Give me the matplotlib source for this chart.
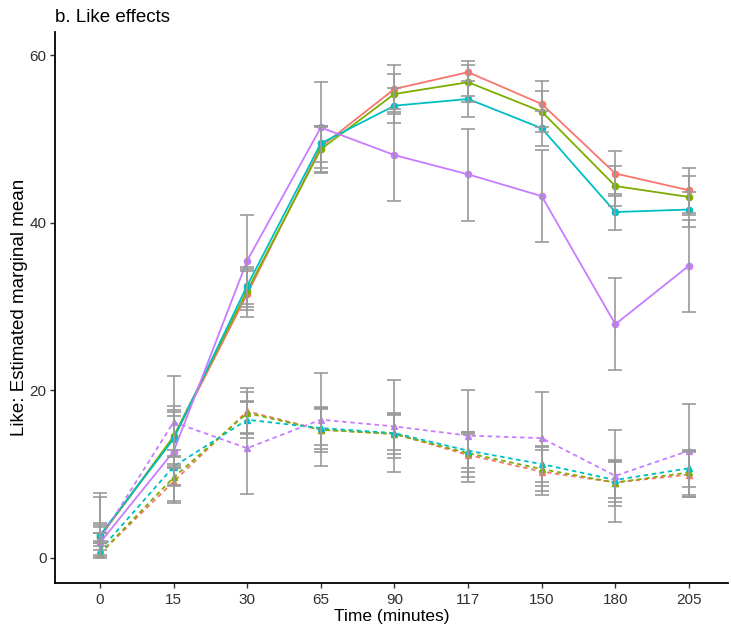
import numpy as np
import matplotlib.pyplot as plt

plt.rcParams['font.family'] = ['Liberation Sans', 'DejaVu Sans']

times = ["0", "15", "30", "65", "90", "117", "150", "180", "205"]

# estimated marginal means, solid = one condition, dashed = the other
red_solid = [2.5, 14.3, 31.5, 49.1, 56.0, 58.0, 54.2, 45.9, 43.9]
green_solid = [2.5, 14.5, 31.9, 48.8, 55.4, 56.8, 53.3, 44.4, 43.1]
cyan_solid = [2.7, 14.2, 32.5, 49.5, 54.0, 54.8, 51.3, 41.3, 41.6]
purple_solid = [1.8, 12.7, 35.5, 51.4, 48.1, 45.8, 43.2, 27.9, 34.9]

red_dashed = [0.5, 9.1, 17.5, 15.3, 14.8, 12.3, 10.3, 9.0, 9.95]
green_dashed = [0.5, 9.6, 17.3, 15.3, 14.8, 12.5, 10.6, 9.0, 10.2]
cyan_dashed = [0.9, 10.9, 16.5, 15.5, 14.9, 12.8, 11.2, 9.3, 10.7]
purple_dashed = [2.2, 16.2, 13.1, 16.5, 15.7, 14.6, 14.3, 9.8, 12.8]

# confidence limits (lower, upper)
red_solid_lo = [1.8, 10.7, 28.8, 46.6, 53.2, 55.2, 51.5, 43.2, 41.2]
red_solid_hi = [3.9, 18.1, 34.2, 51.6, 58.8, 59.3, 56.9, 48.6, 46.6]
green_solid_lo = [1.8, 11.2, 29.6, 46.1, 53.0, 54.5, 50.8, 42.0, 40.9]
green_solid_hi = [3.7, 17.7, 34.5, 51.5, 57.8, 58.9, 55.7, 46.8, 45.6]
cyan_solid_lo = [2.0, 11.0, 30.3, 47.3, 51.9, 52.7, 49.2, 39.2, 39.5]
cyan_solid_hi = [4.2, 17.4, 34.7, 51.6, 56.1, 56.9, 53.4, 43.5, 43.7]
purple_solid_lo = [1.0, 8.6, 30.0, 46.0, 42.6, 40.2, 37.7, 22.4, 29.4]
purple_solid_hi = [7.3, 17.0, 41.0, 56.8, 53.6, 51.2, 48.7, 33.4, 40.4]

red_dashed_lo = [0.0, 6.5, 14.8, 12.6, 11.9, 9.6, 7.5, 6.7, 7.3]
red_dashed_hi = [3.0, 12.0, 20.3, 17.9, 17.3, 14.8, 12.9, 11.4, 12.7]
green_dashed_lo = [0.1, 6.8, 14.9, 13.0, 12.4, 10.2, 8.0, 6.2, 7.5]
green_dashed_hi = [3.0, 12.2, 19.8, 17.8, 17.2, 15.0, 13.2, 11.7, 12.8]
cyan_dashed_lo = [0.4, 8.7, 14.3, 13.5, 12.9, 10.7, 9.1, 7.1, 8.5]
cyan_dashed_hi = [3.0, 12.9, 18.7, 18.0, 17.1, 15.0, 13.4, 11.6, 12.9]
purple_dashed_lo = [1.4, 10.7, 7.6, 11.0, 10.2, 9.1, 8.6, 4.3, 7.3]
purple_dashed_hi = [7.8, 21.7, 18.6, 22.1, 21.3, 20.1, 19.8, 15.3, 18.4]

colors = ["#F8766D", "#7CAE00", "#00BFC4", "#C77CFF"]

solid = [
    (red_solid, red_solid_lo, red_solid_hi),
    (green_solid, green_solid_lo, green_solid_hi),
    (cyan_solid, cyan_solid_lo, cyan_solid_hi),
    (purple_solid, purple_solid_lo, purple_solid_hi),
]
dashed = [
    (red_dashed, red_dashed_lo, red_dashed_hi),
    (green_dashed, green_dashed_lo, green_dashed_hi),
    (cyan_dashed, cyan_dashed_lo, cyan_dashed_hi),
    (purple_dashed, purple_dashed_lo, purple_dashed_hi),
]

x = np.arange(len(times))

fig = plt.figure(figsize=(7.31, 6.27), dpi=100)
ax = fig.add_axes([55 / 731, 44 / 627, 673 / 731, 551 / 627])

for (mean, lo, hi), col in zip(solid, colors):
    ax.plot(x, mean, color=col, lw=1.3, marker="o", ms=4.5, zorder=3)
for (mean, lo, hi), col in zip(dashed, colors):
    ax.plot(x, mean, color=col, lw=1.3, ls=(0, (2.5, 2)), marker="^", ms=5, zorder=3)

# grey error bars on top of the lines
for mean, lo, hi in solid + dashed:
    mean = np.array(mean)
    yerr = [mean - np.array(lo), np.array(hi) - mean]
    ax.errorbar(x, mean, yerr=yerr, fmt="none", ecolor="#9a9a9a",
                elinewidth=1.2, capsize=5, capthick=1.2, zorder=4)

ax.set_xlim(-0.61, 8.53)
ax.set_ylim(-3, 62.8)
ax.set_xticks(x)
ax.set_xticklabels(times)
ax.set_yticks([0, 20, 40, 60])

for side in ["top", "right"]:
    ax.spines[side].set_visible(False)
for side in ["left", "bottom"]:
    ax.spines[side].set_linewidth(1.3)
    ax.spines[side].set_color("black")
ax.tick_params(length=3.5, width=1.0, colors="#333333", labelsize=11,
               labelcolor="#303030")
ax.tick_params(axis="y", pad=2.5)

ax.set_xlabel("Time (minutes)", fontsize=12.5, labelpad=1.5)
ax.set_ylabel("Like: Estimated marginal mean", fontsize=13.5, labelpad=1)
ax.set_title("b. Like effects", loc="left", fontsize=13.5, pad=7, x=0.0)

fig.savefig("out.png", dpi=100)
